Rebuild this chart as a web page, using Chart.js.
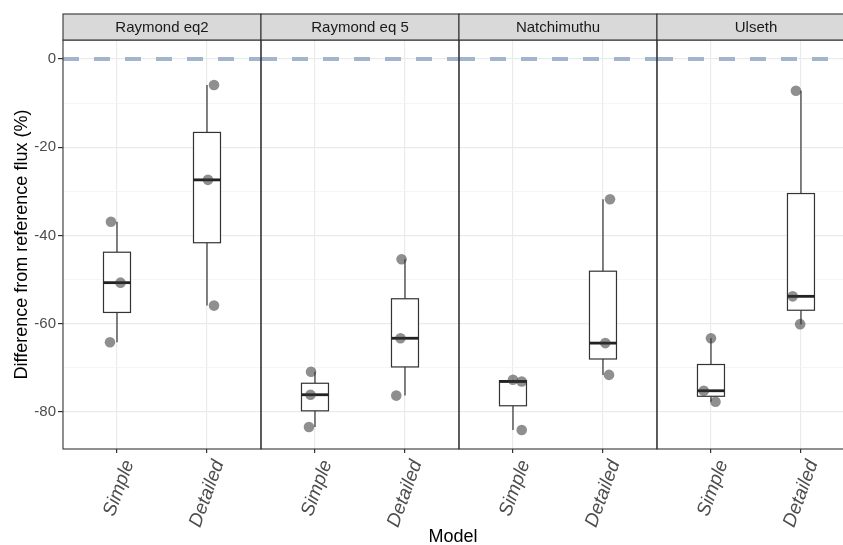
<!DOCTYPE html>
<html>
<head>
<meta charset="utf-8">
<script src="https://cdn.jsdelivr.net/npm/chart.js@4"></script>
<style>
  html, body { margin: 0; padding: 0; background: #fff; }
  canvas { display: block; }
</style>
</head>
<body>
<canvas id="chart" width="843" height="545"></canvas>
<script>
const panels = ["Raymond eq2", "Raymond eq 5", "Natchimuthu", "Ulseth"];
const models = ["Simple", "Detailed"];

// three values per panel
const simpleValues = [
  [-36.9, -50.7, -64.2],
  [-70.9, -76.1, -83.4],
  [-72.7, -73.1, -84.1],
  [-63.3, -75.2, -77.7]
];
const detailedValues = [
  [-5.9, -27.4, -55.9],
  [-45.4, -63.3, -76.3],
  [-31.8, -64.4, -71.6],
  [-7.2, -53.8, -60.1]
];
// horizontal jitter of each point (in category units)
const simpleJitter = [
  [-0.067, 0.039, -0.078],
  [-0.044, -0.05, -0.067],
  [0, 0.097, 0.097],
  [0, -0.08, 0.05]
];
const detailedJitter = [
  [0.078, 0.011, 0.078],
  [-0.038, -0.05, -0.097],
  [0.078, 0.026, 0.067],
  [-0.056, -0.092, -0.009]
];
const yTickValues = [-80, -70, -60, -50, -40, -30, -20, -10, 0];
const refLine = 0;

const PANEL_W = 2.2;
const BOX_W = 0.3;
const seriesValues = [simpleValues, detailedValues];
const seriesJitter = [simpleJitter, detailedJitter];

function catPos(p, m) {
  return p * PANEL_W + 0.6 + m;
}

function quantile(sorted, q) {
  const pos = (sorted.length - 1) * q;
  const lo = Math.floor(pos), hi = Math.ceil(pos);
  return sorted[lo] + (sorted[hi] - sorted[lo]) * (pos - lo);
}

function boxStats(vals) {
  const s = [...vals].sort((a, b) => a - b);
  const q1 = quantile(s, 0.25), med = quantile(s, 0.5), q3 = quantile(s, 0.75);
  const iqr = q3 - q1;
  const lo = Math.min(...s.filter(v => v >= q1 - 1.5 * iqr));
  const hi = Math.max(...s.filter(v => v <= q3 + 1.5 * iqr));
  return { q1, med, q3, lo, hi };
}

const points = [];
const tickPositions = [];
panels.forEach((name, p) => {
  models.forEach((model, m) => {
    tickPositions.push(catPos(p, m));
    seriesValues[m][p].forEach((v, i) => {
      points.push({ x: catPos(p, m) + seriesJitter[m][p][i], y: v });
    });
  });
});

const facetPlugin = {
  id: "facets",
  beforeDatasetsDraw(chart) {
    const { ctx, scales: { x, y } } = chart;
    ctx.save();
    // reference line, one per panel
    const y0 = y.getPixelForValue(refLine);
    ctx.strokeStyle = "#A2B5CD";
    ctx.lineWidth = 4;
    ctx.setLineDash([16, 15]);
    panels.forEach((name, p) => {
      ctx.beginPath();
      ctx.moveTo(x.getPixelForValue(p * PANEL_W), y0);
      ctx.lineTo(x.getPixelForValue((p + 1) * PANEL_W), y0);
      ctx.stroke();
    });
    ctx.setLineDash([]);

    // boxes
    panels.forEach((name, p) => {
      models.forEach((model, m) => {
        const st = boxStats(seriesValues[m][p]);
        const c = catPos(p, m);
        const xc = x.getPixelForValue(c);
        const xl = x.getPixelForValue(c - BOX_W / 2);
        const xr = x.getPixelForValue(c + BOX_W / 2);
        ctx.strokeStyle = "#333333";
        ctx.lineWidth = 1.2;
        ctx.beginPath();
        ctx.moveTo(xc, y.getPixelForValue(st.q3));
        ctx.lineTo(xc, y.getPixelForValue(st.hi));
        ctx.moveTo(xc, y.getPixelForValue(st.q1));
        ctx.lineTo(xc, y.getPixelForValue(st.lo));
        ctx.stroke();
        const top = y.getPixelForValue(st.q3), bot = y.getPixelForValue(st.q1);
        ctx.fillStyle = "#ffffff";
        ctx.fillRect(xl, top, xr - xl, bot - top);
        ctx.strokeRect(xl, top, xr - xl, bot - top);
        ctx.strokeStyle = "#222222";
        ctx.lineWidth = 2.8;
        ctx.beginPath();
        const ym = y.getPixelForValue(st.med);
        ctx.moveTo(xl, ym);
        ctx.lineTo(xr, ym);
        ctx.stroke();
      });
    });
    ctx.restore();
  },
  afterDraw(chart) {
    const { ctx, chartArea: a, scales: { x } } = chart;
    ctx.save();
    ctx.strokeStyle = "#333333";
    ctx.lineWidth = 1.1;
    panels.forEach((name, p) => {
      const l = x.getPixelForValue(p * PANEL_W);
      const r = x.getPixelForValue((p + 1) * PANEL_W);
      ctx.strokeRect(l, a.top, r - l, a.bottom - a.top);
      ctx.fillStyle = "#D9D9D9";
      ctx.fillRect(l, 14, r - l, a.top - 14);
      ctx.strokeRect(l, 14, r - l, a.top - 14);
      ctx.fillStyle = "#1A1A1A";
      ctx.font = "15px 'Liberation Sans', Arial, sans-serif";
      ctx.textAlign = "center";
      ctx.textBaseline = "middle";
      ctx.fillText(name, (l + r) / 2, (14 + a.top) / 2 + 1);
    });
    ctx.restore();
  }
};

new Chart(document.getElementById("chart"), {
  type: "scatter",
  data: {
    datasets: [{
      data: points,
      pointRadius: 5.3,
      pointHoverRadius: 5.3,
      pointBackgroundColor: "rgba(51,51,51,0.55)",
      pointBorderWidth: 0,
      pointBorderColor: "rgba(0,0,0,0)"
    }]
  },
  options: {
    responsive: false,
    animation: false,
    events: [],
    layout: { autoPadding: false, padding: { top: 40, left: 0, right: 0, bottom: 0 } },
    plugins: { legend: { display: false }, tooltip: { enabled: false } },
    scales: {
      x: {
        type: "linear",
        min: 0,
        max: 8.667,
        afterFit(scale) {
          scale.height = 96;
          scale.paddingLeft = 0;
          scale.paddingRight = 0;
        },
        afterBuildTicks(scale) {
          scale.ticks = tickPositions.map(v => ({ value: v }));
        },
        border: { display: false },
        grid: {
          color: "#EBEBEB",
          lineWidth: 1.2,
          tickColor: "#333333",
          tickLength: 4
        },
        ticks: {
          autoSkip: false,
          minRotation: 70,
          maxRotation: 70,
          padding: 4,
          labelOffset: 12,
          color: "#4D4D4D",
          font: { family: "'Liberation Sans', Arial, sans-serif", size: 19, style: "italic" },
          callback: (value, index) => models[index % 2]
        },
        title: {
          display: true,
          text: "Model",
          color: "#000000",
          padding: { top: 0, bottom: -3 },
          font: { family: "'Liberation Sans', Arial, sans-serif", size: 18 }
        }
      },
      y: {
        min: -88.4,
        max: 4.3,
        afterFit(scale) {
          scale.width = 63;
          scale.paddingTop = 0;
          scale.paddingBottom = 0;
        },
        afterBuildTicks(scale) {
          scale.ticks = yTickValues.map(v => ({ value: v }));
        },
        border: { display: false },
        grid: {
          color: ctx => ctx.tick && ctx.tick.value % 20 === 0 ? "#EBEBEB" : "#F3F3F3",
          lineWidth: ctx => ctx.tick && ctx.tick.value % 20 === 0 ? 1.2 : 0.8,
          tickColor: ctx => ctx.tick && ctx.tick.value % 20 === 0 ? "#333333" : "rgba(0,0,0,0)",
          tickLength: 5
        },
        ticks: {
          padding: 2,
          color: "#4D4D4D",
          font: { family: "'Liberation Sans', Arial, sans-serif", size: 15 },
          callback: value => (value % 20 === 0 ? String(value) : "")
        },
        title: {
          display: true,
          text: "Difference from reference flux (%)",
          color: "#000000",
          padding: { top: 11, bottom: 0 },
          font: { family: "'Liberation Sans', Arial, sans-serif", size: 18 }
        }
      }
    }
  },
  plugins: [facetPlugin]
});
</script>
</body>
</html>
